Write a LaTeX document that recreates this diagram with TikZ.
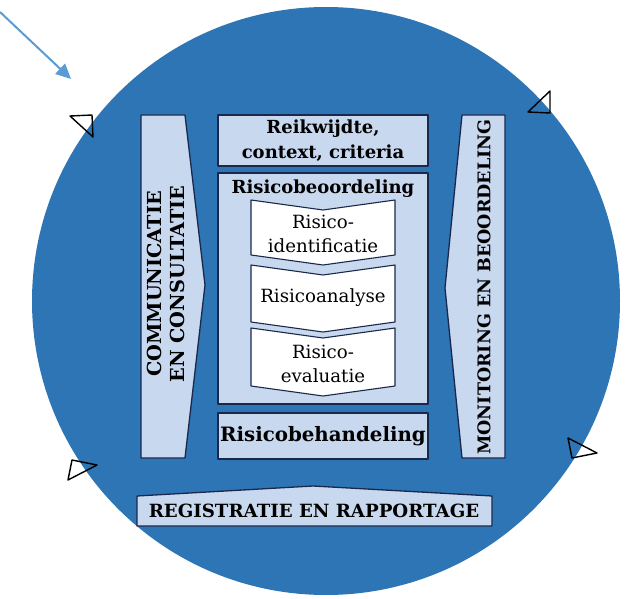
\documentclass[tikz,border=0pt]{standalone}
\usepackage{fontspec}
\setmainfont{DejaVu Serif}
\usetikzlibrary{arrows.meta}
\definecolor{cirkelblauw}{RGB}{46,117,182}
\definecolor{vakblauw}{RGB}{200,216,238}
\definecolor{randblauw}{RGB}{25,40,75}
\definecolor{pijlblauw}{RGB}{91,155,213}
\tikzset{
  vak/.style={fill=vakblauw, draw=randblauw, line width=1.3pt, line join=round},
  witvak/.style={fill=white, draw=randblauw, line width=1.1pt, line join=round},
  kop/.style={font=\bfseries\fontsize{18}{25}\selectfont, align=center, inner sep=0pt},
  hoofd/.style={font=\bfseries\fontsize{18.2}{23}\selectfont, align=center, inner sep=0pt},
  stap/.style={font=\fontsize{18.2}{24}\selectfont, align=center, inner sep=0pt},
  hoek/.style={draw=black, line width=1.4pt, line join=round}
}
\begin{document}
\begin{tikzpicture}[x=1pt,y=-1pt]
	\useasboundingbox (0,0) rectangle (630,599);
	% Cirkel
	\fill[cirkelblauw] (326,301) circle (294pt);

	% Pijl linksboven
	\coordinate (pijlstart) at (0,12);
	\coordinate (pijleind) at (71,79);
	\draw[pijlblauw, line width=2pt, -{Triangle[length=15pt,width=14pt]}] (pijlstart) -- (pijleind);

	% Driehoekjes op de rand
	\draw[hoek] (70,116) -- (92,115) -- (93,137) -- cycle;
	\draw[hoek] (528,112) -- (550,91) -- (550,113) -- cycle;
	\draw[hoek] (568,438) -- (597,453) -- (572,458) -- cycle;
	\draw[hoek] (72,460) -- (97,465) -- (68,480) -- cycle;

	% Communicatie en consultatie
	\draw[vak] (141,115) -- (185,115) -- (205,285) -- (185,458) -- (141,458) -- cycle;
	\node[hoofd, font=\bfseries\fontsize{19.3}{22.5}\selectfont, rotate=90] (communicatie) at (166,284) {COMMUNICATIE\\EN CONSULTATIE};

	% Monitoring en beoordeling
	\draw[vak] (462,115) -- (505,115) -- (505,458) -- (462,458) -- (445,288) -- cycle;
	\node[hoofd, font=\bfseries\fontsize{17.5}{23}\selectfont, rotate=90] (monitoring) at (484,287) {MONITORING EN BEOORDELING};

	% Reikwijdte
	\draw[vak] (218,115) rectangle (428,166);
	\node[kop] (reikwijdte) at (323,141) {Reikwijdte,\\context, criteria};

	% Risicobeoordeling
	\draw[vak] (218,173) rectangle (428,404);
	\node[kop] (beoordeling) at (323,189) {Risicobeoordeling};

	\draw[witvak] (251,200) -- (323,210) -- (395,200) -- (395,255) -- (323,265) -- (251,255) -- cycle;
	\node[stap] (identificatie) at (323,234) {Risico-\\identificatie};

	\draw[witvak] (251,265) -- (323,275) -- (395,265) -- (395,322) -- (323,332) -- (251,322) -- cycle;
	\node[stap] (analyse) at (323,298) {Risicoanalyse};

	\draw[witvak] (251,328) -- (323,338) -- (395,328) -- (395,386) -- (323,396) -- (251,386) -- cycle;
	\node[stap] (evaluatie) at (323,364) {Risico-\\evaluatie};

	% Risicobehandeling
	\draw[vak] (218,413) rectangle (428,459);
	\node[kop, font=\bfseries\fontsize{19.8}{25}\selectfont] (behandeling) at (323,436) {Risicobehandeling};

	% Registratie en rapportage
	\draw[vak] (137,496) -- (313,486) -- (492,496) -- (492,526) -- (137,526) -- cycle;
	\node[hoofd] (registratie) at (314,511) {REGISTRATIE EN RAPPORTAGE};
\end{tikzpicture}
\end{document}
